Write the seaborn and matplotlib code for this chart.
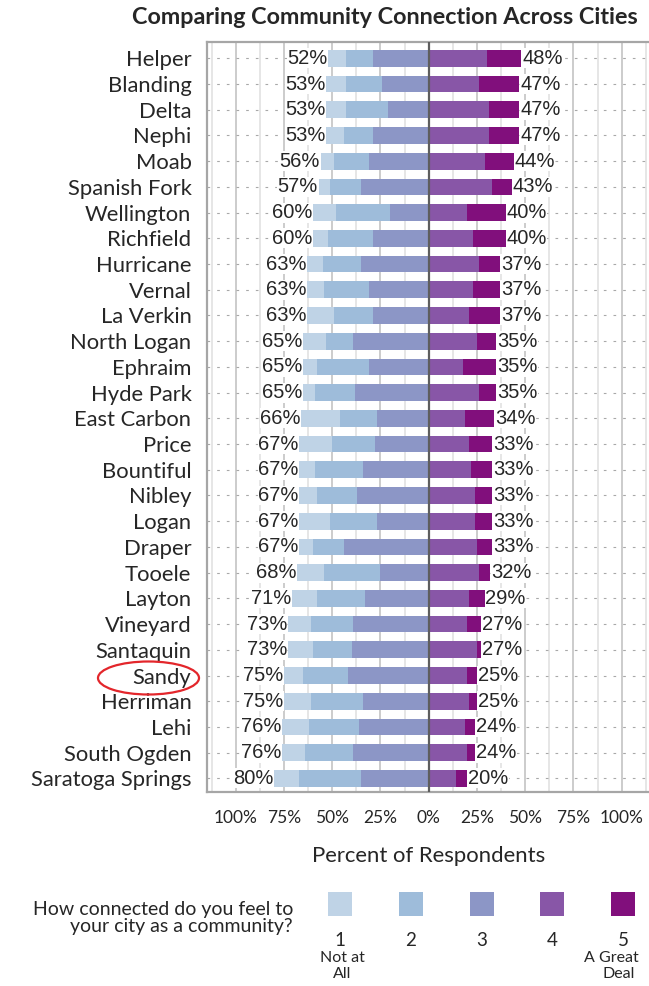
import numpy as np
import pandas as pd
import seaborn as sns
import matplotlib.pyplot as plt
from matplotlib.patches import Rectangle, Ellipse

# data (percent of respondents, scores 1..5)
cities = ['Helper', 'Blanding', 'Delta', 'Nephi', 'Moab', 'Spanish Fork', 'Wellington',
          'Richfield', 'Hurricane', 'Vernal', 'La Verkin', 'North Logan', 'Ephraim',
          'Hyde Park', 'East Carbon', 'Price', 'Bountiful', 'Nibley', 'Logan', 'Draper',
          'Tooele', 'Layton', 'Vineyard', 'Santaquin', 'Sandy', 'Herriman', 'Lehi',
          'South Ogden', 'Saratoga Springs']
score_1 = [9, 10, 10, 9, 7, 6, 12, 8, 8, 9, 14, 12, 7, 6, 20, 17, 8, 9, 16, 7, 14, 13, 12, 13, 10, 14, 14, 12, 13]
score_2 = [14, 19, 22, 15, 18, 16, 28, 23, 20, 23, 20, 14, 27, 21, 19, 22, 25, 21, 24, 16, 29, 25, 22, 20, 23, 27, 26, 25, 32]
score_3 = [29, 24, 21, 29, 31, 35, 20, 29, 35, 31, 29, 39, 31, 38, 27, 28, 34, 37, 27, 44, 25, 33, 39, 40, 42, 34, 36, 39, 35]
score_4 = [30, 26, 31, 31, 29, 33, 20, 23, 26, 23, 21, 25, 18, 26, 19, 21, 22, 24, 24, 25, 26, 21, 20, 25, 20, 21, 19, 20, 14]
score_5 = [18, 21, 16, 16, 15, 10, 20, 17, 11, 14, 16, 10, 17, 9, 15, 12, 11, 9, 9, 8, 6, 8, 7, 2, 5, 4, 5, 4, 6]

score_labels = ['1', '2', '3', '4', '5']
note_line1 = ['Not at', '', '', '', 'A Great']
note_line2 = ['All', '', '', '', 'Deal']
colors = ['#BFD3E6', '#9EBCDA', '#8C96C6', '#8856A7', '#810F7C']

df = pd.DataFrame({'city': cities, 's1': score_1, 's2': score_2, 's3': score_3,
                   's4': score_4, 's5': score_5})
df['left'] = df['s1'] + df['s2'] + df['s3']
df['right'] = df['s4'] + df['s5']
# cumulative ends for overlapping bars
df['l123'] = -(df['s1'] + df['s2'] + df['s3'])
df['l23'] = -(df['s2'] + df['s3'])
df['l3'] = -df['s3']
df['r45'] = df['s4'] + df['s5']
df['r4'] = df['s4']

sns.set_style('white')
plt.rcParams['font.family'] = ['Lato', 'DejaVu Sans']

W, H = 649, 986
fig = plt.figure(figsize=(W / 100, H / 100), dpi=100)
ax = fig.add_axes([206.75 / W, (H - 792) / H, 443.9 / W, (792 - 41.7) / H])

# grid behind bars
for gx in np.arange(-112.5, 113, 12.5):
    if gx == 0:
        continue
    c = '#C4C4C4' if gx % 25 == 0 else '#E2E2E2'
    ax.axvline(gx, color=c, lw=1.2, zorder=0.3)
ax.hlines(range(len(cities)), -115, 115, colors='#A8A8A8', lw=0.8,
          linestyles=(0, (2.4, 6.3)), zorder=0.4)

bar_w = 0.65
for col, c in zip(['l123', 'l23', 'l3', 'r45', 'r4'],
                  [colors[0], colors[1], colors[2], colors[4], colors[3]]):
    sns.barplot(data=df, x=col, y='city', order=cities, color=c, saturation=1,
                width=bar_w, linewidth=0, ax=ax, zorder=2)

ax.axvline(0, color='#5E5E5E', lw=1.6, zorder=3)

# totals
for i, row in df.iterrows():
    ax.text(-row['left'] - 0.4, i, f"{row['left']}%", ha='right', va='center',
            fontsize=14.5, family='Liberation Sans', zorder=4,
            bbox=dict(facecolor='white', edgecolor='none', pad=0.3))
    ax.text(row['right'] + 0.4, i, f"{row['right']}%", ha='left', va='center',
            fontsize=14.5, family='Liberation Sans', zorder=4,
            bbox=dict(facecolor='white', edgecolor='none', pad=0.3))

ax.set_xlim(-115, 115)
ax.set_ylim(len(cities) - 1 + 0.53, -0.646)
ticks = np.arange(-100, 101, 25)
ax.set_xticks(ticks)
ax.set_xticklabels([f'{abs(t)}%' for t in ticks])
ax.tick_params(axis='x', length=0, pad=13, labelsize=12.5)
ax.tick_params(axis='y', length=0, pad=11, labelsize=15.8)
ax.set_xlabel('')
ax.set_ylabel('')
for s in ax.spines.values():
    s.set_color('#A6A6A6')
    s.set_linewidth(1.6)

# overlay in pixel coordinates for title, legend and highlight
ov = fig.add_axes([0, 0, 1, 1])
ov.set_xlim(0, W)
ov.set_ylim(H, 0)
ov.axis('off')

ov.text(384.5, 17, 'Comparing Community Connection Across Cities', ha='center',
        va='center', fontsize=16.8, fontweight='bold')
ov.text(429, 856, 'Percent of Respondents', ha='center', va='center', fontsize=15.9)
ov.text(293, 918, 'How connected do you feel to\nyour city as a community?',
        ha='right', va='center', multialignment='right', fontsize=14, linespacing=1.05)

for k in range(5):
    cx = 340 + k * 70.8
    ov.add_patch(Rectangle((cx - 12, 892), 24, 24, facecolor=colors[k], edgecolor='none'))
    ov.text(cx, 941, score_labels[k], ha='center', va='center', fontsize=13.5)
    if note_line1[k]:
        ov.text(cx + (-12 if k == 4 else 2), 958, note_line1[k], ha='center',
                va='center', fontsize=11.5)
        ov.text(cx + (-5 if k == 4 else 2), 974, note_line2[k], ha='center',
                va='center', fontsize=11.5)

ov.add_patch(Ellipse((148.5, 678), 101, 33, fill=False, edgecolor='#E3262B', lw=1.6))

fig.savefig('out.png', dpi=100)
